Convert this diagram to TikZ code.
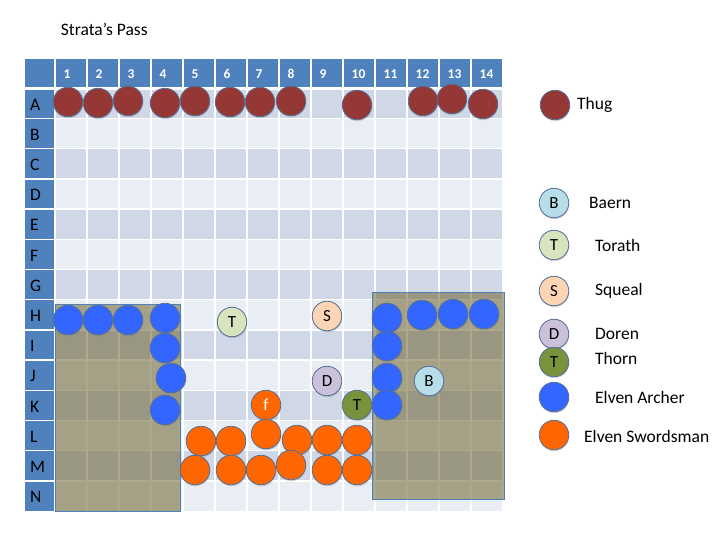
\documentclass[tikz,border=0pt]{standalone}
\usepackage{fontspec}
\setmainfont{Carlito}
\usepackage{tikz}
\usetikzlibrary{shadows}

\definecolor{headblue}{RGB}{79,129,189}
\definecolor{banddark}{RGB}{208,216,232}
\definecolor{bandlight}{RGB}{233,237,244}
\definecolor{walltan}{RGB}{109,99,46}
\definecolor{tokenline}{RGB}{85,110,150}
\definecolor{thugred}{RGB}{149,55,53}
\definecolor{archerblue}{RGB}{51,102,255}
\definecolor{swordorange}{RGB}{255,102,0}
\definecolor{baernblue}{RGB}{183,222,232}
\definecolor{torathgreen}{RGB}{215,228,189}
\definecolor{squealpeach}{RGB}{252,213,181}
\definecolor{dorenlilac}{RGB}{204,193,218}
\definecolor{thornolive}{RGB}{119,147,60}

\begin{document}
\begin{tikzpicture}[x=1pt,y=-1pt,
  gridline/.style={white,line width=1.5pt},
  rowlabel/.style={anchor=west,inner sep=0pt,font=\fontsize{17.5}{19}\selectfont},
  collabel/.style={anchor=west,inner sep=0pt,text=white,font=\bfseries\fontsize{13.5}{15}\selectfont},
  wall/.style={draw=headblue,line width=0.8pt,fill=walltan,fill opacity=0.55},
  token/.style={circle,minimum size=29.5pt,inner sep=0pt,draw=tokenline,line width=0.8pt,
    font=\fontsize{17}{19}\selectfont,
    drop shadow={shadow xshift=0.5pt,shadow yshift=-1.5pt,opacity=0.3}},
  thug/.style={token,fill=thugred},
  archer/.style={token,fill=archerblue},
  sword/.style={token,fill=swordorange},
  baern/.style={token,fill=baernblue},
  torath/.style={token,fill=torathgreen},
  squeal/.style={token,fill=squealpeach},
  doren/.style={token,fill=dorenlilac},
  thorn/.style={token,fill=thornolive},
  keytext/.style={anchor=west,inner sep=0pt,font=\fontsize{17.5}{20}\selectfont}]
\useasboundingbox (0,0) rectangle (720,540);

\node[anchor=west,inner sep=0pt,font=\fontsize{17.5}{20}\selectfont] (title) at (60.7,29) {Strata’s Pass};

% the board
\fill[headblue] (25,59.3) rectangle (503,88.3);
\foreach \r [count=\i] in {A,B,C,D,E,F,G,H,I,J,K,L,M,N} {
  \ifodd\i\relax \def\band{banddark}\else \def\band{bandlight}\fi
  \fill[\band] (55,{88.3+30.2*(\i-1)}) rectangle (503,{88.3+30.2*\i});
  \fill[headblue] (25,{88.3+30.2*(\i-1)}) rectangle (55,{88.3+30.2*\i});
  \node[rowlabel] (row\r) at (30,{88.3+30.2*(\i-0.5)+1}) {\r};
}
\foreach \c in {1,...,14}
  \node[collabel] (col\c) at ({55+32*(\c-1)+8.5},74) {\c};
\foreach \k in {0,...,14}
  \draw[gridline] ({55+32*\k},59.3) -- ({55+32*\k},511.1);
\foreach \k in {1,...,13}
  \draw[gridline] (25,{88.3+30.2*\k}) -- (503,{88.3+30.2*\k});
\draw[white,line width=3pt] (25,88.3) -- (503,88.3);

% the rock walls
\draw[wall] (55,304) rectangle (180,511.5);
\draw[wall] (372,292.5) rectangle (504,499.5);

% thugs
\foreach \x/\y [count=\n] in {68/102,98/103,128/101,165/103,195/101,230/102,
    260/102,291/101,357/105,423/101,452/99,483/104}
  \node[thug] (thug\n) at (\x,\y) {};

% archers
\foreach \x/\y [count=\n] in {68/320,98/320,128/320,165/318,165/348,171/378,165/410,
    387/318,422/315,453/314,484/314,387/346,387/378,387/405}
  \node[archer] (archer\n) at (\x,\y) {};

% swordsmen
\node[sword,text=white] (swordF) at (266,405) {f};
\foreach \x/\y [count=\n] in {201/441,231/441,266/434,297/440,327/440,357/440,
    195/470,231/470,261/470,291/465,327/470,357/470}
  \node[sword] (sword\n) at (\x,\y) {};

\node[torath] (torath) at (232,322) {T};
\node[squeal] (squeal) at (327,316) {S};
\node[doren] (doren) at (327,381) {D};
\node[thorn] (thorn) at (357,405) {T};
\node[baern] (baern) at (429,381) {B};

% key
\node[thug] (keyThug) at (555,105) {};
\node[keytext] (keyThugText) at (577,105) {Thug};
\node[baern] (keyBaern) at (554,203) {B};
\node[keytext] (keyBaernText) at (589,203) {Baern};
\node[torath] (keyTorath) at (554,245) {T};
\node[keytext] (keyTorathText) at (595,245) {Torath};
\node[squeal] (keySqueal) at (554,291) {S};
\node[keytext] (keySquealText) at (595,291) {Squeal};
\node[doren] (keyDoren) at (554,334) {D};
\node[keytext] (keyDorenText) at (595,334) {Doren};
\node[thorn] (keyThorn) at (554,362) {T};
\node[keytext] (keyThornText) at (595,358) {Thorn};
\node[archer] (keyArcher) at (554,397) {};
\node[keytext] (keyArcherText) at (595,397) {Elven Archer};
\node[sword] (keySword) at (554,435) {};
\node[keytext] (keySwordText) at (584,436.5) {Elven Swordsman};
\end{tikzpicture}
\end{document}
